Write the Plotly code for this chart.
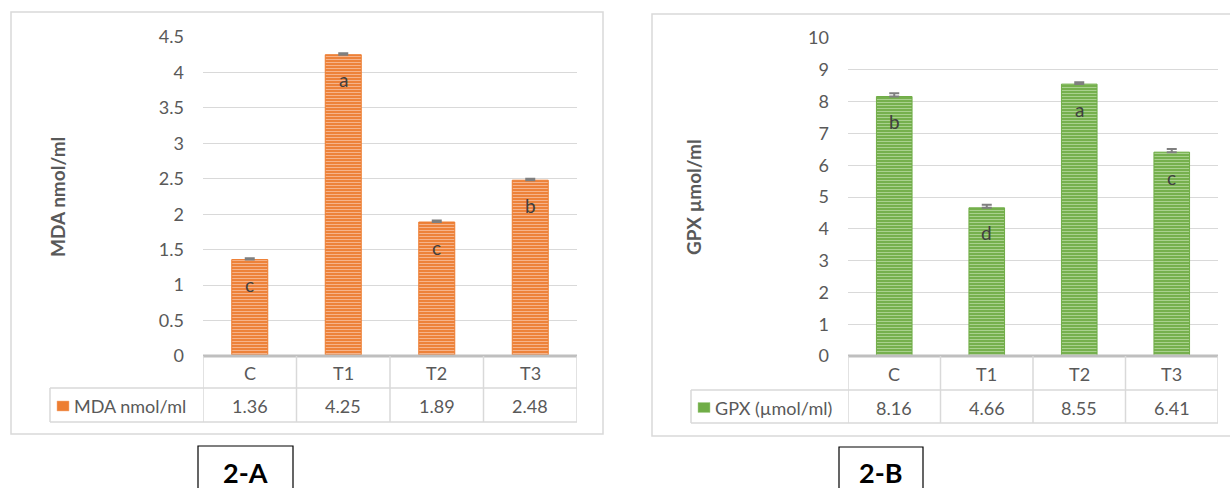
import plotly.graph_objects as go

# Treatment groups and measured values
categories = ["C", "T1", "T2", "T3"]
mda_values = [1.36, 4.25, 1.89, 2.48]
mda_errors = [0.02, 0.02, 0.02, 0.02]
mda_letters = ["c", "a", "c", "b"]
gpx_values = [8.16, 4.66, 8.55, 6.41]
gpx_errors = [0.10, 0.10, 0.06, 0.10]
gpx_letters = ["b", "d", "a", "c"]

W, H = 1230, 488
FONT = "Lato"
TXT = "#595959"
GRID = "#D9D9D9"


def px(x):
    return x / W


def py(y):
    return 1 - y / H


fig = go.Figure()


def note(**kw):
    kw.setdefault("xanchor", "center")
    kw.setdefault("yanchor", "middle")
    fig.add_annotation(showarrow=False, **kw)


def add_panel(xa, ya, values, errors, letters, main, light, name, yrange, dtick,
              dom_x, dom_y, rows, legend_x, box, label, label_box, ytitle, ytitle_x):
    xref = "x" if xa == 1 else f"x{xa}"
    yref = "y" if ya == 1 else f"y{ya}"
    fig.add_trace(go.Bar(
        x=categories, y=values, xaxis=xref, yaxis=yref, width=0.385,
        marker=dict(color=main, line=dict(color=main, width=1),
                    pattern=dict(shape="-", fillmode="replace", bgcolor=main,
                                 fgcolor=light, size=3, solidity=0.4)),
        error_y=dict(type="data", array=errors, arrayminus=[0] * len(errors),
                     symmetric=False, color="#7F7F7F", thickness=2, width=5),
        showlegend=False, name=name,
    ))
    xk = "xaxis" if xa == 1 else f"xaxis{xa}"
    yk = "yaxis" if ya == 1 else f"yaxis{ya}"
    fig.update_layout(**{
        xk: dict(domain=[px(dom_x[0]), px(dom_x[1])], range=[-0.5, 3.5],
                 showticklabels=False, showgrid=False, zeroline=False,
                 showline=False, anchor=yref, fixedrange=True, automargin=False),
        yk: dict(domain=[py(dom_y[1]), py(dom_y[0])], range=yrange, dtick=dtick,
                 showgrid=True, gridcolor=GRID, gridwidth=1, zeroline=False,
                 showline=False, ticks="", ticklabelstandoff=18, automargin=False,
                 tickfont=dict(family=FONT, size=18, color=TXT), anchor=xref),
    })
    top, mid, bot = rows
    # axis baseline
    fig.add_shape(type="line", xref=xref, yref="paper", x0=-0.5, x1=3.5,
                  y0=py(top), y1=py(top), line=dict(color="#BFBFBF", width=3))
    # data table grid
    for yy in (mid, bot):
        fig.add_shape(type="line", xref="paper", yref="paper",
                      x0=px(legend_x), x1=px(dom_x[1]), y0=py(yy), y1=py(yy),
                      line=dict(color=GRID, width=1.5))
    for k in range(5):
        fig.add_shape(type="line", xref=xref, yref="paper", x0=k - 0.5, x1=k - 0.5,
                      y0=py(top), y1=py(bot), line=dict(color=GRID, width=1.5))
    fig.add_shape(type="line", xref="paper", yref="paper", x0=px(legend_x),
                  x1=px(legend_x), y0=py(mid), y1=py(bot),
                  line=dict(color=GRID, width=1.5))
    ycat = (top + mid) / 2 + 1
    yval = (mid + bot) / 2 + 1
    for c, v in zip(categories, values):
        note(x=c, xref=xref, y=py(ycat), yref="paper", text=c,
             font=dict(family=FONT, size=18, color=TXT))
        note(x=c, xref=xref, y=py(yval), yref="paper", text=f"{v:.2f}",
             font=dict(family=FONT, size=18, color=TXT))
    # legend key inside the table
    fig.add_shape(type="rect", xref="paper", yref="paper",
                  x0=px(legend_x + 7), x1=px(legend_x + 19),
                  y0=py(yval - 5), y1=py(yval + 5), fillcolor=main,
                  line=dict(color=light, width=0.5))
    note(x=px(legend_x + 22), y=py(yval), xref="paper", yref="paper",
         xanchor="left", text=name, font=dict(family=FONT, size=18, color=TXT))
    # significance letters inside bars
    for c, v, l in zip(categories, values, letters):
        note(x=c, xref=xref, y=v, yref=yref, yshift=-25, text=l,
             font=dict(family=FONT, size=19, color="#404040"))
    # y-axis title
    note(x=px(ytitle_x), y=py(197), xref="paper", yref="paper",
         text=f"<b>{ytitle}</b>", textangle=-90,
         font=dict(family=FONT, size=19, color=TXT))
    # chart frame
    fig.add_shape(type="rect", xref="paper", yref="paper", x0=px(box[0]), x1=px(box[1]),
                  y0=py(box[3]), y1=py(box[2]), line=dict(color="#D9D9D9", width=1.5))
    # panel label
    fig.add_shape(type="rect", xref="paper", yref="paper",
                  x0=px(label_box[0]), x1=px(label_box[1]),
                  y0=py(520), y1=py(label_box[2]), line=dict(color="#000000", width=1.2))
    note(x=px((label_box[0] + label_box[1]) / 2), y=py(472),
         xref="paper", yref="paper", text=f"<b>{label}</b>",
         font=dict(family=FONT, size=27, color="#000000"))


add_panel(1, 1, mda_values, mda_errors, mda_letters, "#ED7D31", "#F6B38A",
          "MDA nmol/ml", [0, 4.5], 0.5, (203, 577), (37, 356), (356, 388, 422), 50,
          (11, 603, 12, 434), "2-A", (198, 293, 446), "MDA nmol/ml", 57)
add_panel(2, 2, gpx_values, gpx_errors, gpx_letters, "#70AD47", "#A9D18E",
          "GPX (µmol/ml)", [0, 10], 1, (848, 1218), (38, 356), (356, 390, 423), 691,
          (652, 1240, 14, 436), "2-B", (839, 923, 447), "GPX µmol/ml", 693)

fig.update_layout(width=W, height=H, margin=dict(l=0, r=0, t=0, b=0, pad=0,
                                                  autoexpand=False),
                  paper_bgcolor="white", plot_bgcolor="white", bargap=0.6,
                  font=dict(family=FONT, color=TXT))

fig.write_html("out.html")
